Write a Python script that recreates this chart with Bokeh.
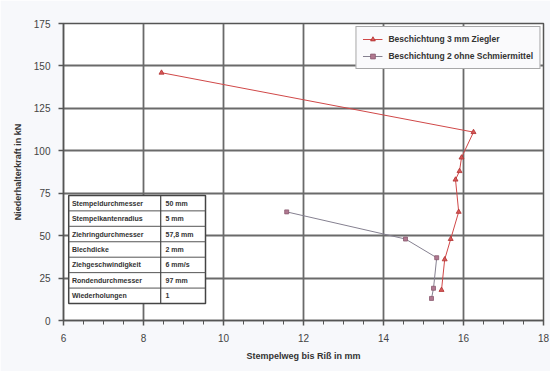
from bokeh.plotting import figure
from bokeh.models import (Range1d, FixedTicker, Legend, LegendItem, ColumnDataSource)
from bokeh.core.properties import value
from bokeh.embed import file_html
from bokeh.resources import INLINE

# Niederhalterkraft (kN) gegen Stempelweg bis Riß (mm)
weg_ziegler = [8.45, 16.25, 15.95, 15.9, 15.8, 15.88, 15.68, 15.53, 15.45]
kraft_ziegler = [146, 111, 96, 88, 83, 64, 48, 36, 18]

weg_ohne = [11.58, 14.55, 15.33, 15.25, 15.2]
kraft_ohne = [64, 48, 37, 19, 13]

serie_namen = ["Beschichtung 3 mm Ziegler", "Beschichtung 2 ohne Schmiermittel"]

x_ticks = [6, 8, 10, 12, 14, 16, 18]
y_ticks = [0, 25, 50, 75, 100, 125, 150, 175]

# Versuchsparameter
param_namen = ["Stempeldurchmesser", "Stempelkantenradius", "Ziehringdurchmesser",
               "Blechdicke", "Ziehgeschwindigkeit", "Rondendurchmesser", "Wiederholungen"]
param_werte = ["50 mm", "5 mm", "57,8 mm", "2 mm", "6 mm/s", "97 mm", "1"]

FONT = "Liberation Sans"
GRID = "#6a6a6a"

p = figure(width=550, height=371, output_backend="svg", toolbar_location=None,
           x_range=Range1d(6, 18), y_range=Range1d(0, 175),
           min_border_left=63, min_border_right=7, min_border_top=23, min_border_bottom=51,
           background_fill_color="white", border_fill_color="#f7f8fb")

p.outline_line_color = "#555555"
p.outline_line_width = 1.5

p.xaxis.ticker = FixedTicker(ticks=x_ticks,
                             minor_ticks=[x + 0.5 * k for x in x_ticks[:-1] for k in (1, 2, 3)])
p.yaxis.ticker = FixedTicker(ticks=y_ticks, minor_ticks=[])

for ax in (p.xaxis[0], p.yaxis[0]):
    ax.axis_line_color = "#555555"
    ax.axis_line_width = 1.5
    ax.major_tick_line_color = "#555555"
    ax.major_tick_line_width = 1.5
    ax.minor_tick_line_color = "#555555"
    ax.major_tick_in = 0
    ax.major_tick_out = 5
    ax.minor_tick_in = 0
    ax.minor_tick_out = 4
    ax.major_label_text_font = FONT
    ax.major_label_text_font_size = "10px"
    ax.major_label_text_color = "#444444"
    ax.axis_label_text_font = FONT
    ax.axis_label_text_font_size = "9px"
    ax.axis_label_text_font_style = "bold"
    ax.axis_label_text_color = "#333333"

p.xaxis.axis_label = "Stempelweg bis Riß in mm"
p.yaxis.axis_label = "Niederhalterkraft in kN"
p.xaxis.major_label_standoff = 8
p.xaxis.axis_label_standoff = 6
p.yaxis.major_label_standoff = 8
p.yaxis.axis_label_standoff = 8

p.xgrid.ticker = FixedTicker(ticks=x_ticks)
p.ygrid.ticker = FixedTicker(ticks=y_ticks)
p.grid.grid_line_color = GRID
p.grid.grid_line_width = 1.8

# Messreihen
l1 = p.line(weg_ziegler, kraft_ziegler, line_color="#d04848", line_width=1)
m1 = p.scatter(weg_ziegler, kraft_ziegler, marker="triangle", size=5,
               fill_color="#d85858", line_color="#b03030", line_width=0.8)
l2 = p.line(weg_ohne, kraft_ohne, line_color="#858090", line_width=1)
m2 = p.scatter(weg_ohne, kraft_ohne, marker="square", size=4,
               fill_color="#b07890", line_color="#8a5a70", line_width=0.8)

legend = Legend(items=[LegendItem(label=serie_namen[0], renderers=[l1, m1]),
                       LegendItem(label=serie_namen[1], renderers=[l2, m2])],
                location="top_right")
legend.border_line_color = "#555555"
legend.border_line_width = 1.5
legend.background_fill_color = "#fafafc"
legend.background_fill_alpha = 1
legend.label_text_font = FONT
legend.label_text_font_size = "8.5px"
legend.label_text_font_style = "bold"
legend.label_text_color = "#333333"
legend.glyph_width = 20
legend.glyph_height = 12
legend.label_height = 12
legend.spacing = 5
legend.padding = 6
legend.margin = 3
legend.label_standoff = 6
p.add_layout(legend)

# Parametertabelle unten links
n = len(param_namen)
tab_x0, tab_xm, tab_x1 = 6.13, 8.43, 9.55
tab_top, tab_bottom = 73.7, 10.0
row_h = (tab_top - tab_bottom) / n
tops = [tab_top - i * row_h for i in range(n)]
bottoms = [t - row_h for t in tops]
p.quad(left=tab_x0, right=tab_x1, top=tab_top, bottom=tab_bottom,
       fill_color="white", line_color="#444444", line_width=1.5)
p.segment(x0=[tab_x0] * (n - 1), x1=[tab_x1] * (n - 1), y0=bottoms[:-1], y1=bottoms[:-1],
          line_color="#555555", line_width=1)
p.segment(x0=[tab_xm], x1=[tab_xm], y0=[tab_bottom], y1=[tab_top],
          line_color="#444444", line_width=1.2)
mids = [(t + b) / 2 for t, b in zip(tops, bottoms)]
src = ColumnDataSource(dict(y=mids, name=param_namen, val=param_werte))
p.text(x=tab_x0 + 0.08, y="y", text="name", source=src, text_font=value(FONT),
       text_font_size="7px", text_font_style="bold", text_color="#333333",
       text_baseline="middle", text_align="left")
p.text(x=tab_xm + 0.12, y="y", text="val", source=src, text_font=value(FONT),
       text_font_size="7px", text_font_style="bold", text_color="#333333",
       text_baseline="middle", text_align="left")

open("out.html", "w").write(file_html(p, INLINE))
